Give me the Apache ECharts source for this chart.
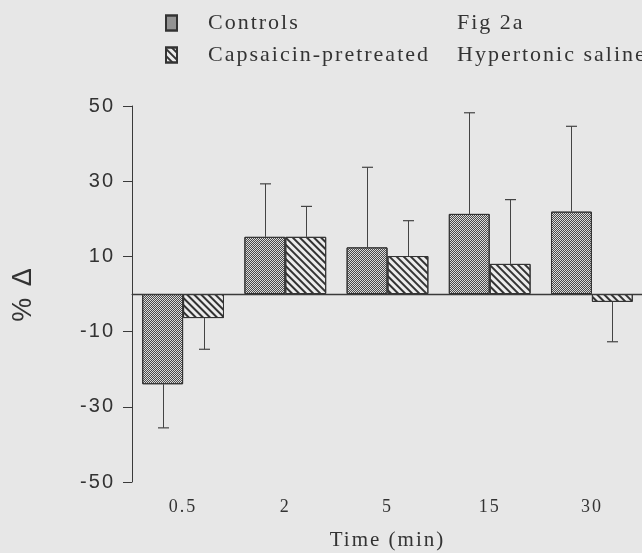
<!DOCTYPE html>
<html><head><meta charset="utf-8">
<script src="https://cdn.jsdelivr.net/npm/echarts@6/dist/echarts.min.js"></script>
<style>html,body{margin:0;padding:0;background:#e7e7e7}#c{width:642px;height:553px}</style>
</head><body><div id="c"></div>
<script>
// ---- data ----
const categories = ['0.5', '2', '5', '15', '30'];
const controls = [-24, 15.2, 12.4, 21.3, 21.9];
const controlsErr = [11.6, 14.1, 21.3, 26.9, 22.7];
const capsaicin = [-6.4, 15.2, 10.1, 8.0, -2.1];
const capsaicinErr = [8.3, 8.1, 9.4, 17.1, 10.6];
const seriesNames = ['Controls', 'Capsaicin-pretreated'];

// letter-spaced typography like the scanned figure
const LS = '2px';
(function(){
  const P = CanvasRenderingContext2D.prototype;
  const ft = P.fillText, mt = P.measureText;
  if ('letterSpacing' in P) {
    P.fillText = function(){ this.letterSpacing = LS; return ft.apply(this, arguments); };
    P.measureText = function(){ this.letterSpacing = LS; return mt.apply(this, arguments); };
  }
})();

const errData = [];
controls.forEach((v, i) => errData.push([i, v, controlsErr[i], 0]));
capsaicin.forEach((v, i) => errData.push([i, v, capsaicinErr[i], 1]));

const serif = '"Liberation Serif", "DejaVu Serif", serif';
const sans = '"Liberation Sans", Arial, sans-serif';
const ink = '#333';

const chart = echarts.init(document.getElementById('c'), null, {renderer: 'canvas'});
chart.setOption({
  animation: false,
  backgroundColor: '#e7e7e7',
  title: {
    text: 'Fig 2a',
    subtext: 'Hypertonic saline',
    left: 457, top: 11, padding: 0, itemGap: 8,
    textStyle: {fontFamily: serif, fontSize: 22, fontWeight: 'normal', color: ink},
    subtextStyle: {fontFamily: serif, fontSize: 22, color: ink}
  },
  legend: {
    data: seriesNames,
    orient: 'vertical', left: 165, top: 11, padding: 0,
    itemWidth: 11, itemHeight: 15, itemGap: 8,
    icon: 'rect',
    textStyle: {fontFamily: serif, fontSize: 22, color: ink, padding: [0, 0, 0, 26]}
  },
  grid: {left: 132, right: -1, top: 106, bottom: 71, outerBoundsMode: 'none'},
  xAxis: {
    type: 'category', data: categories,
    name: 'Time (min)', nameLocation: 'middle', nameGap: 47,
    nameTextStyle: {fontFamily: serif, fontSize: 21, color: ink},
    axisLine: {lineStyle: {color: '#3a3a3a', width: 1}},
    axisTick: {length: 8, lineStyle: {color: '#3a3a3a'}},
    axisLabel: {fontFamily: serif, fontSize: 18, color: ink, margin: 15}
  },
  yAxis: {
    type: 'value', min: -50, max: 50, interval: 20,
    name: '% Δ', nameLocation: 'middle', nameRotate: 90, nameGap: 94,
    nameTextStyle: {fontFamily: sans, fontSize: 27, color: ink},
    axisLine: {show: true, lineStyle: {color: '#3a3a3a', width: 1}},
    axisTick: {show: true, length: 9, lineStyle: {color: '#3a3a3a'}},
    axisLabel: {fontFamily: sans, fontSize: 20, color: ink, margin: 17},
    splitLine: {show: false}
  },
  series: [
    {
      name: seriesNames[0], type: 'bar', data: controls,
      barGap: '0%', barCategoryGap: '20%',
      itemStyle: {
        color: '#dcdcdc', borderColor: '#333', borderWidth: 1,
        decal: {symbol: 'rect', symbolSize: 1, color: '#4a4a4a',
                dashArrayX: [[1, 1], [0, 1, 1, 0]], dashArrayY: [1, 0]}
      },
      markLine: {
        silent: true, symbol: ['none', 'none'], label: {show: false},
        lineStyle: {color: '#3a3a3a', type: 'solid', width: 1.3},
        data: [{yAxis: 0}]
      }
    },
    {
      name: seriesNames[1], type: 'bar', data: capsaicin,
      itemStyle: {
        color: '#ececec', borderColor: '#333', borderWidth: 1,
        decal: {symbol: 'rect', symbolSize: 1, color: '#333',
                dashArrayX: [1, 0], dashArrayY: [1.3, 3], rotation: Math.PI / 4}
      }
    },
    {
      type: 'custom', data: errData, z: 5, silent: true,
      encode: {x: 0, y: 1},
      renderItem: function (params, api) {
        const i = api.value(0), v = api.value(1), e = api.value(2), s = api.value(3);
        const band = api.size([1, 0])[0];
        const bw = band * 0.8 / 2;
        const base = api.coord([i, v]);
        const end = api.coord([i, v < 0 ? v - e : v + e]);
        const x = Math.round(base[0] + (s === 0 ? -bw / 2 : bw / 2)) + 0.5;
        const cap = 5.5;
        return {type: 'group', children: [
          {type: 'line', shape: {x1: x, y1: base[1], x2: x, y2: end[1]}, style: {stroke: '#444', lineWidth: 1}},
          {type: 'line', shape: {x1: x - cap, y1: end[1], x2: x + cap, y2: end[1]}, style: {stroke: '#444', lineWidth: 1.2}}
        ]};
      }
    }
  ]
});
</script>
</body></html>
